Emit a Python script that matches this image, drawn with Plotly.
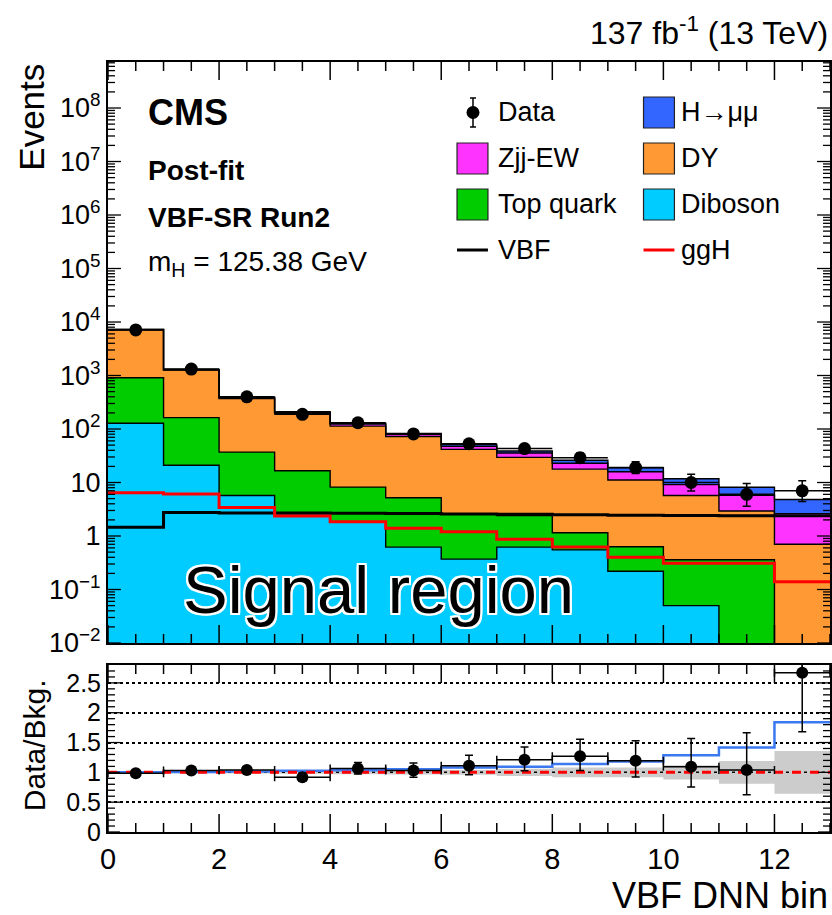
import numpy as np
import plotly.graph_objects as go

# ---- binning -------------------------------------------------------------
bin_edges = list(range(14))
bin_centers = [i + 0.5 for i in range(13)]

# ---- observed events (Poisson intervals) ---------------------------------
data_counts = [7100, 1320, 400, 188, 131, 81, 53, 43, 29, 19, 10, 6, 7]
data_err_up = [84.8, 36.8, 21.0, 14.7, 12.5, 10.0, 8.3, 7.6, 6.5, 5.4, 4.3, 3.6, 3.8]
data_err_dn = [84.3, 36.3, 20.0, 13.7, 11.4, 9.0, 7.3, 6.5, 5.4, 4.3, 3.1, 2.4, 2.6]

# ---- post-fit predictions per bin ----------------------------------------
diboson = [128, 21, 5.7, 2.6, 1.8, 0.62, 0.37, 0.62, 0.55, 0.22, 0.05, 0, 0]
top_quark = [782, 142, 31.3, 14.0, 6.4, 4.58, 2.23, 1.78, 0.60, 0.41, 0.31, 0.36, 0]
dy = [6300, 1104, 333, 176, 105, 66.8, 39.1, 27.1, 16.6, 10.5, 5.37, 2.57, 0.70]
zjj_ew = [10, 15, 15, 12, 10, 6.6, 6.0, 6.0, 5.1, 4.8, 3.4, 2.84, 1.92]
h_mumu = [7.9, 8.9, 6.1, 5.1, 4.5, 4.0, 3.8, 3.4, 3.2, 2.9, 2.6, 2.4, 2.2]
vbf = [1.45, 2.75, 2.7, 2.68, 2.65, 2.62, 2.58, 2.55, 2.5, 2.45, 2.42, 2.4, 2.38]
ggh = [6.4, 6.1, 3.4, 2.37, 1.85, 1.39, 1.2, 0.87, 0.62, 0.40, 0.31, 0.31, 0.14]
bkg_rel_unc = [0.01, 0.015, 0.02, 0.025, 0.03, 0.035, 0.04, 0.06, 0.08, 0.08, 0.12, 0.19, 0.36]

# ---- styling --------------------------------------------------------------
FONT = "Liberation Sans, Arial, Helvetica, sans-serif"
C_DIBOSON = "#00CCFF"
C_TOP = "#00CC00"
C_DY = "#FF9933"
C_ZJJ = "#FF33FF"
C_HMM = "#3366FF"
C_RATIO_BLUE = "#3C78F0"

W, H = 832, 915
L, R, T, B = 108, 0, 62, 83
PW, PH = W - L - R, H - T - B

X_RANGE = [0, 13]
LOG_RANGE = [-2, 8.86]
RATIO_RANGE = [0, 2.8]


def px(x):
    return (x - L) / PW


def py(y):
    return (H - B - y) / PH


def steps(vals):
    return list(vals) + [vals[-1]]


FLOOR = 1e-4  # below the visible log range
TOP_DOM = [py(643), 1.0]
RATIO_DOM = [0.0, py(665)]

fig = go.Figure()

# ---- stacked post-fit histograms -----------------------------------------
layers = [
    ("Diboson", diboson, C_DIBOSON),
    ("Top quark", top_quark, C_TOP),
    ("DY", dy, C_DY),
    ("Zjj-EW", zjj_ew, C_ZJJ),
    ("H→μμ", h_mumu, C_HMM),
]
fig.add_trace(go.Scatter(x=bin_edges, y=[FLOOR] * 14, mode="lines",
                         line=dict(width=0, shape="hv"), xaxis="x", yaxis="y",
                         hoverinfo="skip"))
cum = np.zeros(13)
for name, vals, col in layers:
    cum = cum + np.array(vals, dtype=float)
    yv = np.clip(cum, FLOOR, None)
    fig.add_trace(go.Scatter(x=bin_edges, y=steps(yv), mode="lines", name=name,
                             line=dict(color="black", width=1.4, shape="hv"),
                             fill="tonexty", fillcolor=col, xaxis="x", yaxis="y"))

# ---- signal component lines ------------------------------------------------
fig.add_trace(go.Scatter(x=bin_edges, y=steps(vbf), mode="lines", name="VBF",
                         line=dict(color="black", width=3, shape="hv"),
                         xaxis="x", yaxis="y"))
fig.add_trace(go.Scatter(x=bin_edges, y=steps(ggh), mode="lines", name="ggH",
                         line=dict(color="#FF0000", width=3, shape="hv"),
                         xaxis="x", yaxis="y"))

# ---- data ------------------------------------------------------------------
fig.add_trace(go.Scatter(
    x=bin_centers, y=data_counts, mode="markers", name="Data",
    marker=dict(color="black", size=13),
    error_y=dict(type="data", array=data_err_up, arrayminus=data_err_dn,
                 color="black", thickness=1.5, width=4),
    error_x=dict(type="constant", value=0.5, color="black", thickness=1.5, width=0),
    xaxis="x", yaxis="y"))

# ---- ratio panel -------------------------------------------------------------
bkg = np.array(diboson) + np.array(top_quark) + np.array(dy) + np.array(zjj_ew)
unc = np.array(bkg_rel_unc)
fig.add_trace(go.Scatter(x=bin_edges, y=steps(1 - unc), mode="lines",
                         line=dict(width=0, shape="hv"), xaxis="x2", yaxis="y2"))
fig.add_trace(go.Scatter(x=bin_edges, y=steps(1 + unc), mode="lines",
                         line=dict(width=0, shape="hv"), fill="tonexty",
                         fillcolor="#CCCCCC", xaxis="x2", yaxis="y2"))
fig.add_trace(go.Scatter(x=[0, 13], y=[1, 1], mode="lines",
                         line=dict(color="black", width=1.5, dash="dot"),
                         xaxis="x2", yaxis="y2"))
sb_ratio = (bkg + np.array(h_mumu)) / bkg
fig.add_trace(go.Scatter(x=bin_edges, y=steps(sb_ratio), mode="lines",
                         line=dict(color=C_RATIO_BLUE, width=2.5, shape="hv"),
                         xaxis="x2", yaxis="y2"))
fig.add_trace(go.Scatter(x=[0, 13], y=[1, 1], mode="lines",
                         line=dict(color="#FF0000", width=3, dash="dash"),
                         xaxis="x2", yaxis="y2"))
ratio = np.array(data_counts) / bkg
fig.add_trace(go.Scatter(
    x=bin_centers, y=ratio, mode="markers",
    marker=dict(color="black", size=12),
    error_y=dict(type="data", array=np.array(data_err_up) / bkg,
                 arrayminus=np.array(data_err_dn) / bkg,
                 color="black", thickness=1.5, width=4),
    error_x=dict(type="constant", value=0.5, color="black", thickness=1.5, width=4),
    xaxis="x2", yaxis="y2"))

# ---- axes ----------------------------------------------------------------
frame = dict(showline=True, linewidth=2, linecolor="black", mirror=True,
             ticks="", zeroline=False, showgrid=False)
x_major = list(range(0, 14, 2))
x_minor = [v / 2 for v in range(0, 27) if v % 4 != 0]

decades = list(range(-2, 9))
y_major = [10.0 ** d for d in decades]
y_labels = []
for d in decades:
    if d == 0:
        y_labels.append("1")
    elif d == 1:
        y_labels.append("10")
    else:
        y_labels.append("10<sup>%s</sup>" % (str(d).replace("-", "−")))
y_minor = [k * 10.0 ** d for d in range(-2, 9) for k in range(2, 10)
           if np.log10(k * 10.0 ** d) < LOG_RANGE[1]]

r_major = [0, 0.5, 1, 1.5, 2, 2.5]
r_minor = [round(0.1 * i, 1) for i in range(1, 28) if i % 5 != 0]

fig.update_layout(
    width=W, height=H,
    margin=dict(l=L, r=R, t=T, b=B),
    paper_bgcolor="white", plot_bgcolor="white",
    showlegend=False,
    font=dict(family=FONT, color="black"),
    xaxis=dict(domain=[0, 1], anchor="y", range=X_RANGE, tickvals=x_major,
               showticklabels=False, **frame),
    yaxis=dict(domain=TOP_DOM, anchor="x", type="log", range=LOG_RANGE,
               tickvals=y_major, ticktext=y_labels,
               tickfont=dict(size=27, family=FONT), **frame),
    xaxis2=dict(domain=[0, 1], anchor="y2", range=X_RANGE, tickvals=x_major,
                ticktext=[str(v) for v in x_major],
                tickfont=dict(size=29, family=FONT), **frame),
    yaxis2=dict(domain=RATIO_DOM, anchor="x2", range=RATIO_RANGE,
                tickvals=r_major, ticktext=["0", "0.5", "1", "1.5", "2", "2.5"],
                tickfont=dict(size=25, family=FONT),
                **{k: v for k, v in frame.items() if k != "showgrid"},
                showgrid=True, gridcolor="black", griddash="dot", gridwidth=1.5),
)

# ---- inward ROOT-style tick marks, kept on top of the filled histograms ----
shapes = []


def tick_line(x0, y0, x1, y1, w=1.5):
    shapes.append(dict(type="line", xref="paper", yref="paper", layer="above",
                       x0=x0, x1=x1, y0=y0, y1=y1,
                       line=dict(color="black", width=w)))


def frame_ticks(dom, yfrac, y_maj, y_min, ylen_maj, ylen_min):
    d0, d1 = dom
    dh = (d1 - d0) * PH
    for vals, ln in ((x_major, 18), (x_minor, 9)):
        for v in vals:
            xf = (v - X_RANGE[0]) / (X_RANGE[1] - X_RANGE[0])
            tick_line(xf, d0, xf, d0 + ln / PH)
            tick_line(xf, d1, xf, d1 - ln / PH)
    for vals, ln in ((y_maj, ylen_maj), (y_min, ylen_min)):
        for v in vals:
            yf = d0 + yfrac(v) * (d1 - d0)
            tick_line(0, yf, ln / PW, yf, 1.3)
            tick_line(1, yf, 1 - ln / PW, yf, 1.3)


frame_ticks(TOP_DOM,
            lambda v: (np.log10(v) - LOG_RANGE[0]) / (LOG_RANGE[1] - LOG_RANGE[0]),
            y_major, y_minor, 13, 7)
frame_ticks(RATIO_DOM,
            lambda v: (v - RATIO_RANGE[0]) / (RATIO_RANGE[1] - RATIO_RANGE[0]),
            r_major, r_minor, 12, 7)

# ---- text ----------------------------------------------------------------
ann = []


def text(x, y, s, size, xanchor="left", yanchor="middle", bold=False, angle=0,
         **kw):
    ann.append(dict(x=px(x), y=py(y), xref="paper", yref="paper", text=s,
                    showarrow=False, xanchor=xanchor, yanchor=yanchor,
                    textangle=angle,
                    font=dict(size=size, family=FONT, color="black",
                              weight="bold" if bold else "normal", **kw)))


text(832, 31, "137 fb<sup>-1</sup> (13 TeV)", 32, xanchor="right")
text(146, 112, "CMS", 36, bold=True)
text(146, 170, "Post-fit", 28, bold=True)
text(146, 217, "VBF-SR Run2", 28, bold=True)
text(146, 263, "m<sub>H</sub> = 125.38 GeV", 28)
text(31, 62, "Events", 35, xanchor="center", yanchor="top", angle=-90)
text(34, 745, "Data/Bkg.", 30, xanchor="center", angle=-90)
text(832, 895, "VBF DNN bin", 36, xanchor="right")
text(181, 589, "Signal region", 67,
     shadow="-2px -2px 0 #fff, 2px -2px 0 #fff, -2px 2px 0 #fff, 2px 2px 0 #fff, "
            "0 2px 0 #fff, 0 -2px 0 #fff, 2px 0 0 #fff, -2px 0 0 #fff")

# legend entries
legend_font = 27
text(497, 112, "Data", legend_font)
text(681, 112, "H→μμ", legend_font)
text(497, 158, "Zjj-EW", legend_font)
text(681, 158, "DY", legend_font)
text(497, 204, "Top quark", legend_font)
text(681, 204, "Diboson", legend_font)
text(497, 250, "VBF", legend_font)
text(681, 250, "ggH", legend_font)


def box(x0, y0, x1, y1, col):
    shapes.append(dict(type="rect", xref="paper", yref="paper",
                       x0=px(x0), x1=px(x1), y0=py(y1), y1=py(y0),
                       fillcolor=col, line=dict(color="#222222", width=1.2)))


def seg(x0, y0, x1, y1, col, w):
    shapes.append(dict(type="line", xref="paper", yref="paper",
                       x0=px(x0), x1=px(x1), y0=py(y0), y1=py(y1),
                       line=dict(color=col, width=w)))


box(645, 97, 676, 128, C_HMM)
box(458, 143, 489, 174, C_ZJJ)
box(645, 143, 676, 174, C_DY)
box(458, 189, 489, 220, C_TOP)
box(645, 189, 676, 220, C_DIBOSON)
seg(458, 250, 489, 250, "black", 3)
seg(645, 250, 676, 250, "#FF0000", 3)
# data marker in legend
seg(474, 98, 474, 127, "black", 1.5)
seg(471, 98, 477, 98, "black", 1.5)
seg(471, 127, 477, 127, "black", 1.5)
shapes.append(dict(type="circle", xref="paper", yref="paper",
                   x0=px(467.5), x1=px(480.5), y0=py(119), y1=py(106),
                   fillcolor="black", line=dict(color="black", width=0)))

fig.update_layout(annotations=ann, shapes=shapes)

fig.write_html("out.html")
